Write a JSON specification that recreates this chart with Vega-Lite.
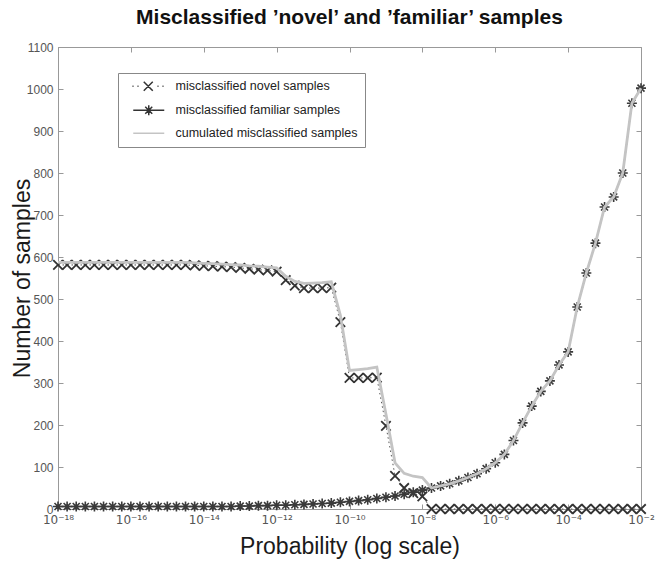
{
  "$schema": "https://vega.github.io/schema/vega-lite/v6.json",
  "width": 583,
  "height": 462,
  "autosize": {"type": "none"},
  "padding": {"left": 58, "top": 47, "right": 14, "bottom": 58},
  "background": "white",
  "title": {"text": "Misclassified ’novel’ and ’familiar’ samples", "font": "Liberation Sans", "fontSize": 21, "fontWeight": "bold", "color": "#111", "anchor": "middle", "offset": 13},
  "config": {"view": {"stroke": null}, "font": "Liberation Sans"},
  "data": {"values": [
    {"p": 1e-18, "novel": 581, "familiar": 6, "cumulated": 587},
    {"p": 1.778e-18, "novel": 581, "familiar": 6, "cumulated": 587},
    {"p": 3.162e-18, "novel": 581, "familiar": 6, "cumulated": 587},
    {"p": 5.623e-18, "novel": 581, "familiar": 6, "cumulated": 587},
    {"p": 1e-17, "novel": 581, "familiar": 6, "cumulated": 587},
    {"p": 1.778e-17, "novel": 581, "familiar": 6, "cumulated": 587},
    {"p": 3.162e-17, "novel": 581, "familiar": 6, "cumulated": 587},
    {"p": 5.623e-17, "novel": 581, "familiar": 6, "cumulated": 587},
    {"p": 1e-16, "novel": 581, "familiar": 6, "cumulated": 587},
    {"p": 1.778e-16, "novel": 581, "familiar": 6, "cumulated": 587},
    {"p": 3.162e-16, "novel": 581, "familiar": 6, "cumulated": 587},
    {"p": 5.623e-16, "novel": 581, "familiar": 6, "cumulated": 587},
    {"p": 1e-15, "novel": 581, "familiar": 6, "cumulated": 587},
    {"p": 1.778e-15, "novel": 581, "familiar": 6, "cumulated": 587},
    {"p": 3.162e-15, "novel": 581, "familiar": 6, "cumulated": 587},
    {"p": 5.623e-15, "novel": 580, "familiar": 6, "cumulated": 586},
    {"p": 1e-14, "novel": 579, "familiar": 6, "cumulated": 585},
    {"p": 1.778e-14, "novel": 578, "familiar": 6, "cumulated": 584},
    {"p": 3.162e-14, "novel": 577, "familiar": 6, "cumulated": 583},
    {"p": 5.623e-14, "novel": 576, "familiar": 6, "cumulated": 582},
    {"p": 1e-13, "novel": 574, "familiar": 7, "cumulated": 581},
    {"p": 1.778e-13, "novel": 572, "familiar": 7, "cumulated": 579},
    {"p": 3.162e-13, "novel": 570, "familiar": 8, "cumulated": 578},
    {"p": 5.623e-13, "novel": 568, "familiar": 8, "cumulated": 576},
    {"p": 1e-12, "novel": 565, "familiar": 9, "cumulated": 574},
    {"p": 1.778e-12, "novel": 545, "familiar": 9, "cumulated": 554},
    {"p": 3.162e-12, "novel": 532, "familiar": 10, "cumulated": 542},
    {"p": 5.623e-12, "novel": 526, "familiar": 11, "cumulated": 537},
    {"p": 1e-11, "novel": 526, "familiar": 12, "cumulated": 538},
    {"p": 1.778e-11, "novel": 526, "familiar": 13, "cumulated": 539},
    {"p": 3.162e-11, "novel": 527, "familiar": 14, "cumulated": 541},
    {"p": 5.623e-11, "novel": 445, "familiar": 16, "cumulated": 461},
    {"p": 1e-10, "novel": 312, "familiar": 18, "cumulated": 330},
    {"p": 1.778e-10, "novel": 312, "familiar": 20, "cumulated": 332},
    {"p": 3.162e-10, "novel": 312, "familiar": 22, "cumulated": 334},
    {"p": 5.623e-10, "novel": 313, "familiar": 25, "cumulated": 338},
    {"p": 1e-9, "novel": 198, "familiar": 28, "cumulated": 226},
    {"p": 1.778e-9, "novel": 79, "familiar": 31, "cumulated": 110},
    {"p": 3.162e-9, "novel": 50, "familiar": 35, "cumulated": 85},
    {"p": 5.623e-9, "novel": 38, "familiar": 40, "cumulated": 78},
    {"p": 1e-8, "novel": 30, "familiar": 45, "cumulated": 75},
    {"p": 1.778e-8, "novel": 0, "familiar": 50, "cumulated": 50},
    {"p": 3.162e-8, "novel": 0, "familiar": 55, "cumulated": 55},
    {"p": 5.623e-8, "novel": 0, "familiar": 60, "cumulated": 60},
    {"p": 1e-7, "novel": 0, "familiar": 67, "cumulated": 67},
    {"p": 1.778e-7, "novel": 0, "familiar": 75, "cumulated": 75},
    {"p": 3.162e-7, "novel": 0, "familiar": 84, "cumulated": 84},
    {"p": 5.623e-7, "novel": 0, "familiar": 96, "cumulated": 96},
    {"p": 1e-6, "novel": 0, "familiar": 110, "cumulated": 110},
    {"p": 1.778e-6, "novel": 0, "familiar": 130, "cumulated": 130},
    {"p": 3.162e-6, "novel": 0, "familiar": 163, "cumulated": 163},
    {"p": 5.623e-6, "novel": 0, "familiar": 205, "cumulated": 205},
    {"p": 1e-5, "novel": 0, "familiar": 245, "cumulated": 245},
    {"p": 1.778e-5, "novel": 0, "familiar": 280, "cumulated": 280},
    {"p": 3.162e-5, "novel": 0, "familiar": 305, "cumulated": 305},
    {"p": 5.623e-5, "novel": 0, "familiar": 343, "cumulated": 343},
    {"p": 1e-4, "novel": 0, "familiar": 374, "cumulated": 374},
    {"p": 1.778e-4, "novel": 0, "familiar": 481, "cumulated": 481},
    {"p": 3.162e-4, "novel": 0, "familiar": 562, "cumulated": 562},
    {"p": 5.623e-4, "novel": 0, "familiar": 633, "cumulated": 633},
    {"p": 1e-3, "novel": 0, "familiar": 719, "cumulated": 719},
    {"p": 1.778e-3, "novel": 0, "familiar": 743, "cumulated": 743},
    {"p": 3.162e-3, "novel": 0, "familiar": 800, "cumulated": 800},
    {"p": 5.623e-3, "novel": 0, "familiar": 966, "cumulated": 966},
    {"p": 1e-2, "novel": 0, "familiar": 1002, "cumulated": 1002}
  ]},
  "layer": [
    {
      "mark": {"type": "line", "color": "#555", "strokeWidth": 1, "strokeDash": [1.5, 3]},
      "encoding": {
        "x": {"field": "p", "type": "quantitative", "scale": {"type": "log", "domain": [1e-18, 0.01], "nice": false},
              "axis": {"orient": "top", "labels": false, "title": null, "grid": false, "values": [1e-18, 1e-16, 1e-14, 1e-12, 1e-10, 1e-8, 1e-6, 1e-4, 1e-2], "tickSize": -5, "tickColor": "#999", "domainColor": "#999"}},
        "y": {"field": "novel", "type": "quantitative", "scale": {"domain": [0, 1100], "nice": false},
              "axis": {"orient": "right", "labels": false, "title": null, "grid": false, "values": [0, 100, 200, 300, 400, 500, 600, 700, 800, 900, 1000, 1100], "tickSize": -5, "tickColor": "#999", "domainColor": "#999"}}
      }
    },
    {
      "mark": {"type": "point", "shape": "M-1,-1L1,1M-1,1L1,-1", "size": 90, "filled": false, "color": "#333", "strokeWidth": 1.8, "opacity": 1},
      "encoding": {
        "x": {"field": "p", "type": "quantitative", "axis": null},
        "y": {"field": "novel", "type": "quantitative", "axis": null}
      }
    },
    {
      "mark": {"type": "line", "color": "#444", "strokeWidth": 1.3},
      "encoding": {
        "x": {"field": "p", "type": "quantitative", "axis": null},
        "y": {"field": "familiar", "type": "quantitative", "axis": null}
      }
    },
    {
      "mark": {"type": "point", "shape": "M-1,0L1,0M0,-1L0,1M-0.7,-0.7L0.7,0.7M-0.7,0.7L0.7,-0.7", "size": 100, "filled": false, "color": "#3a3a3a", "strokeWidth": 1.6, "opacity": 1},
      "encoding": {
        "x": {"field": "p", "type": "quantitative", "axis": null},
        "y": {"field": "familiar", "type": "quantitative", "axis": null}
      }
    },
    {
      "mark": {"type": "line", "color": "#c4c4c4", "strokeWidth": 2.8},
      "encoding": {
        "x": {"field": "p", "type": "quantitative",
              "axis": {"orient": "bottom", "grid": false, "values": [1e-18, 1e-16, 1e-14, 1e-12, 1e-10, 1e-8, 1e-6, 1e-4, 1e-2],
                       "labelExpr": "['10⁻¹⁸','10⁻¹⁶','10⁻¹⁴','10⁻¹²','10⁻¹⁰','10⁻⁸','10⁻⁶','10⁻⁴','10⁻²'][round((log(datum.value)/LN10+18)/2)]",
                       "labelFlush": false, "labelFont": "DejaVu Sans", "labelFontSize": 12, "labelColor": "#555", "labelPadding": 10,
                       "tickSize": -5, "tickColor": "#999", "domainColor": "#999",
                       "title": "Probability (log scale)", "titleFontSize": 23, "titleFontWeight": "normal", "titleColor": "#1a1a1a", "titlePadding": 10}},
        "y": {"field": "cumulated", "type": "quantitative",
              "axis": {"orient": "left", "grid": false, "values": [0, 100, 200, 300, 400, 500, 600, 700, 800, 900, 1000, 1100], "format": "d",
                       "labelFontSize": 12, "labelColor": "#555", "labelPadding": 10,
                       "tickSize": -5, "tickColor": "#999", "domainColor": "#999",
                       "title": "Number of samples", "titleFontSize": 23, "titleFontWeight": "normal", "titleColor": "#1a1a1a", "titleX": -29, "titleBaseline": "alphabetic"}}
      }
    },
    {
      "data": {"values": [
        {"series": "misclassified novel samples"},
        {"series": "misclassified familiar samples"},
        {"series": "cumulated misclassified samples"}
      ]},
      "mark": {"type": "point", "filled": false, "opacity": 0, "strokeWidth": 1.5},
      "encoding": {
        "shape": {"field": "series", "type": "nominal",
                  "scale": {"domain": ["misclassified novel samples", "misclassified familiar samples", "cumulated misclassified samples"],
                            "range": ["M0.25,0L0.45,0M1.25,0L1.45,0M5.25,0L5.45,0M6.25,0L6.45,0M2.5,-0.9L4.3,0.9M2.5,0.9L4.3,-0.9",
                                      "M0.4,0L6.6,0M3.5,-1L3.5,1M2.5,0L4.5,0M2.8,-0.7L4.2,0.7M2.8,0.7L4.2,-0.7",
                                      "M0.4,0L6.6,0"]},
                  "legend": {"title": null, "orient": "none", "legendX": 60, "legendY": 26, "padding": 7, "rowPadding": 8,
                             "symbolSize": 100, "symbolStrokeWidth": 1.5, "symbolOpacity": 1, "labelOffset": 38,
                             "labelFontSize": 12.5, "labelColor": "#222", "labelLimit": 400,
                             "strokeColor": "#888", "fillColor": "white"}},
        "color": {"field": "series", "type": "nominal",
                  "scale": {"domain": ["misclassified novel samples", "misclassified familiar samples", "cumulated misclassified samples"],
                            "range": ["#333", "#333", "#c4c4c4"]},
                  "legend": {"title": null, "orient": "none", "legendX": 60, "legendY": 26, "padding": 7, "rowPadding": 8,
                             "symbolSize": 100, "symbolStrokeWidth": 1.5, "symbolOpacity": 1, "labelOffset": 38,
                             "labelFontSize": 12.5, "labelColor": "#222", "labelLimit": 400,
                             "strokeColor": "#888", "fillColor": "white"}}
      }
    }
  ],
  "resolve": {"axis": {"x": "independent", "y": "independent"}}
}
